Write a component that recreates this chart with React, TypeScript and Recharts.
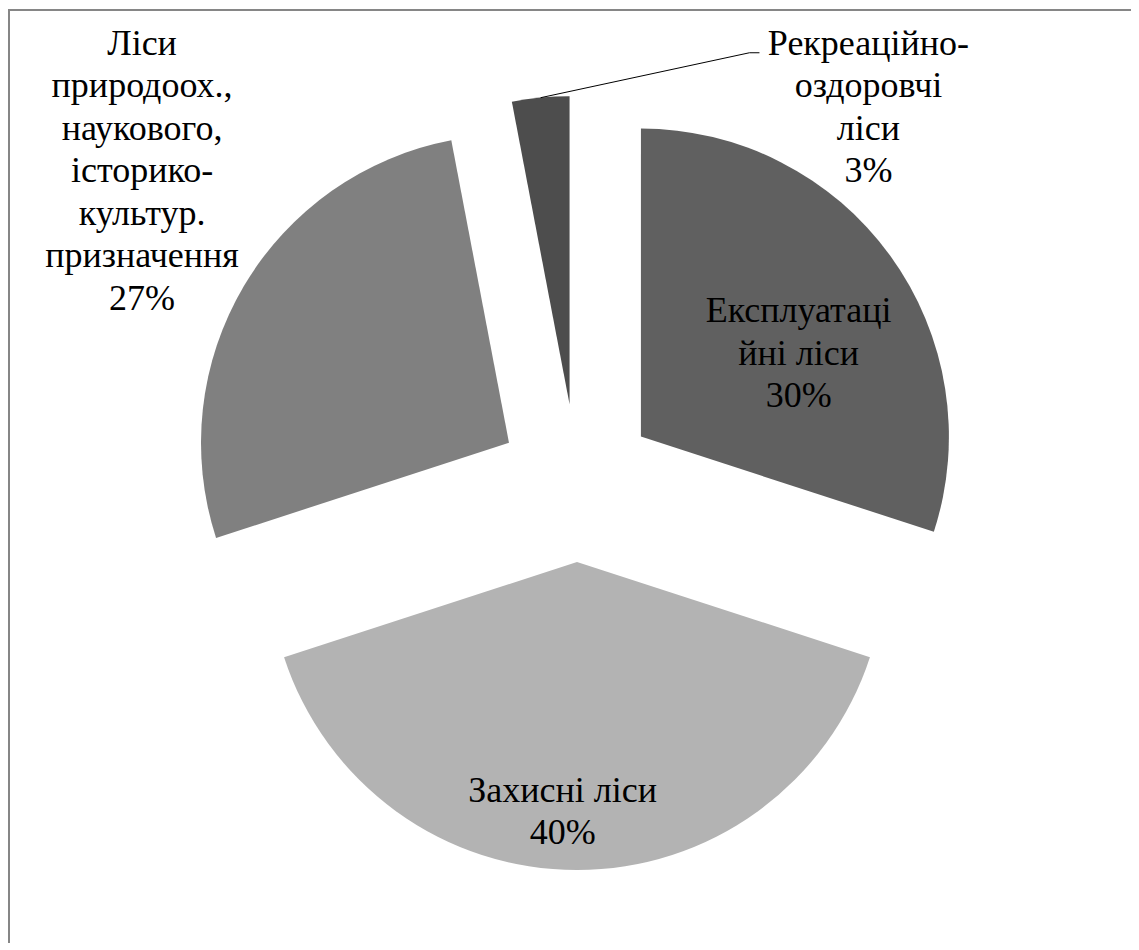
import React from "react";
import { PieChart, Pie, Cell, Sector } from "recharts";

// ---- data ----
const categories = [
  "Експлуатаційні ліси",
  "Захисні ліси",
  "Ліси природоох., наукового, історико-культур. призначення",
  "Рекреаційно-оздоровчі ліси",
];
const shares = [30, 40, 27, 3];
const labelLines = [
  ["Експлуатаці", "йні ліси"],
  ["Захисні ліси"],
  ["Ліси", "природоох.,", "наукового,", "історико-", "культур.", "призначення"],
  ["Рекреаційно-", "оздоровчі", "ліси"],
];

// ---- styles / layout ----
const colors = ["#606060", "#b3b3b3", "#808080", "#4d4d4d"];
// label placement: radius (in outer radii) and clockwise angle from 12 o'clock, measured from the exploded slice centre
const labelPlacement = [
  { r: 0.58, angle: 62, leader: false },
  { r: 0.81, angle: 183.3, leader: false },
  { r: 1.484, angle: 306.6, leader: false },
  { r: 1.37, angle: 45.1, leader: true },
];
const EXPLODE = 79;
const FONT = "Liberation Serif";
const FONT_SIZE = 36;
const LINE_H = 42.5;
const CAP = 24;
const RAD = Math.PI / 180;

const data = categories.map((name, i) => ({ name, value: shares[i] }));

const polar = (cx: number, cy: number, r: number, deg: number) => ({
  x: cx + r * Math.cos(deg * RAD),
  y: cy - r * Math.sin(deg * RAD),
});

const ExplodedSector = (props: any) => {
  const { cx, cy, midAngle } = props;
  const o = polar(cx, cy, EXPLODE, midAngle);
  return <Sector {...props} cx={o.x} cy={o.y} />;
};

const renderLabel = (props: any) => {
  const { cx, cy, midAngle, outerRadius, percent, index } = props;
  const apex = polar(cx, cy, EXPLODE, midAngle);
  const pl = labelPlacement[index];
  const anchor = polar(apex.x, apex.y, pl.r * outerRadius, 90 - pl.angle);
  const lines = [...labelLines[index], `${Math.round(percent * 100)}%`];
  const n = lines.length;
  const first = anchor.y - ((n - 1) * LINE_H) / 2 + CAP / 2;
  let leader = null;
  if (pl.leader) {
    const s = polar(apex.x, apex.y, outerRadius, midAngle);
    const ly = first - 2;
    leader = (
      <polyline
        points={`${s.x},${s.y} ${anchor.x - 119},${ly} ${anchor.x - 109},${ly}`}
        fill="none"
        stroke="#000"
        strokeWidth={1}
      />
    );
  }
  return (
    <g key={`lbl-${index}`} className="serif-label">
      {leader}
      {lines.map((t, i) => (
        <text
          key={i}
          className="serif-label"
          x={anchor.x}
          y={first + i * LINE_H}
          textAnchor="middle"
          fontFamily={FONT}
          fontSize={FONT_SIZE}
          fill="#000"
          stroke="none"
        >
          {t}
        </text>
      ))}
    </g>
  );
};

const css = `
html body #root .recharts-wrapper svg text.serif-label,
html body #root .recharts-wrapper svg g.serif-label text {
  font-family: "Liberation Serif", "Times New Roman", serif !important;
  font-size: ${FONT_SIZE}px !important;
}
`;

export default function App() {
  return (
    <div
      style={{
        width: 1129,
        height: 932,
        marginTop: 1,
        borderTop: "2px solid #868686",
        borderLeft: "2px solid #868686",
        background: "#fff",
      }}
    >
      <style>{css}</style>
      <PieChart width={1129} height={932} margin={{ top: 0, right: 0, bottom: 0, left: 0 }}>
        <Pie
          data={data}
          dataKey="value"
          nameKey="name"
          cx={567}
          cy={472}
          outerRadius={308}
          startAngle={90}
          endAngle={-270}
          stroke="none"
          isAnimationActive={false}
          shape={ExplodedSector}
          activeShape={ExplodedSector}
          inactiveShape={ExplodedSector}
          label={renderLabel}
          labelLine={false}
        >
          {data.map((d, i) => (
            <Cell key={d.name} fill={colors[i]} />
          ))}
        </Pie>
      </PieChart>
    </div>
  );
}
